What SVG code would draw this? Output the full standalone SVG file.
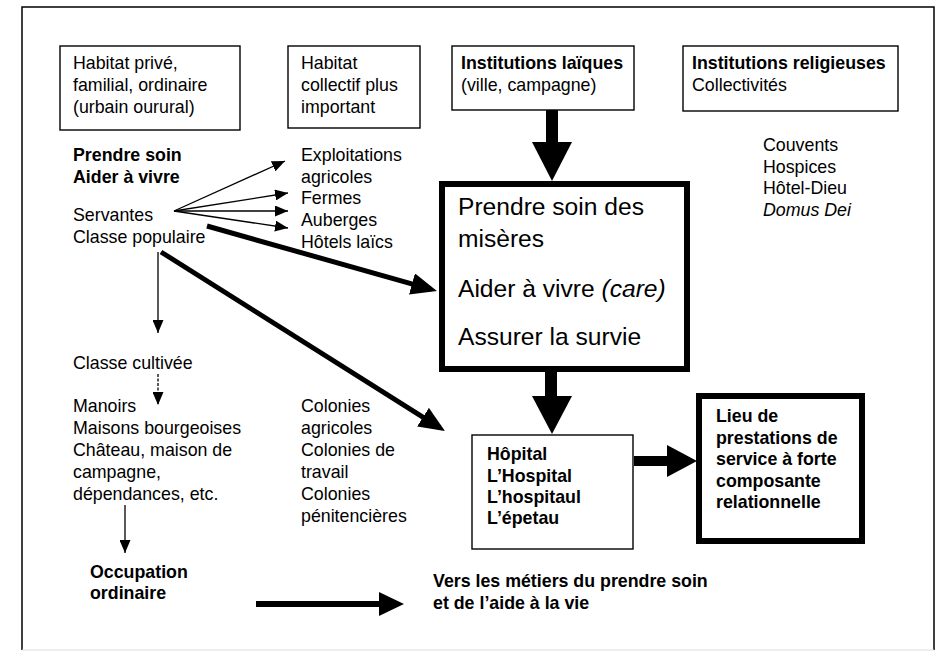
<svg xmlns="http://www.w3.org/2000/svg" width="939" height="652" viewBox="0 0 939 652">
<defs>
<style>
text{font-family:"Liberation Sans",Arial,sans-serif;font-size:17.8px;fill:#000}
.b{font-weight:bold}
.i{font-style:italic}
.big{font-size:24.6px}
.box{fill:#fff;stroke:#000;stroke-width:1.4}
.tbox{fill:#fff;stroke:#000;stroke-width:6}
.thin{stroke:#000;stroke-width:1.3;fill:none}
.thick{stroke:#000;stroke-width:5;fill:none}
.head{fill:#000}
</style>
<marker id="ah" viewBox="0 0 13 11" refX="13" refY="5.5" markerWidth="13" markerHeight="11" markerUnits="userSpaceOnUse" orient="auto"><path d="M0,0 L13,5.5 L0,11 z" fill="#000"/></marker>
<marker id="ahT" viewBox="0 0 26 22" refX="20" refY="11" markerWidth="26" markerHeight="22" markerUnits="userSpaceOnUse" orient="auto"><path d="M0,0 L26,11 L0,22 z" fill="#000"/></marker>
</defs>
<rect width="939" height="652" fill="#fff"/>
<g id="frame">
<path d="M22,650 V7 H934 V650" fill="none" stroke="#000" stroke-width="1.5"/>
<line x1="22" y1="650" x2="934" y2="650" stroke="#ddd" stroke-width="1"/>
</g>
<g id="connectors">
<line class="thin" x1="174" y1="211" x2="285" y2="161" marker-end="url(#ah)"/>
<line class="thin" x1="174" y1="211" x2="288" y2="193" marker-end="url(#ah)"/>
<line class="thin" x1="174" y1="211" x2="288" y2="211" marker-end="url(#ah)"/>
<line class="thin" x1="174" y1="211" x2="288" y2="228" marker-end="url(#ah)"/>
<line class="thick" x1="207" y1="226" x2="431.2" y2="289.4" marker-end="url(#ahT)"/>
<line class="thick" x1="161" y1="252" x2="439.9" y2="427.8" marker-end="url(#ahT)"/>
<line class="thin" x1="158" y1="252" x2="158" y2="333" marker-end="url(#ah)"/>
<line class="thin" x1="158" y1="374" x2="158" y2="405" stroke-dasharray="3,1.5" marker-end="url(#ah)"/>
<line class="thin" x1="125" y1="505" x2="125" y2="553" marker-end="url(#ah)"/>
<rect class="head" x="546" y="110" width="12" height="34"/>
<polygon class="head" points="532,142 572,142 552,181"/>
<rect class="head" x="545" y="369" width="12" height="29"/>
<polygon class="head" points="532,396 572,396 552,434"/>
<rect class="head" x="634" y="456" width="35" height="10"/>
<polygon class="head" points="667,445 697,461 667,477"/>
<rect class="head" x="256" y="601" width="125" height="6"/>
<polygon class="head" points="379,592 404,604 379,616"/>
</g>
<g id="habitat-prive">
<rect class="box" x="60" y="46" width="180" height="84"/>
<text x="73" y="69">Habitat privé,</text>
<text x="73" y="91">familial, ordinaire</text>
<text x="73" y="113">(urbain ourural)</text>
</g>
<g id="habitat-collectif">
<rect class="box" x="288" y="46" width="132" height="82"/>
<text x="301" y="69">Habitat</text>
<text x="301" y="91">collectif plus</text>
<text x="301" y="113">important</text>
</g>
<g id="institutions-laiques">
<rect class="box" x="452" y="46" width="182" height="64"/>
<text x="461" y="69" class="b">Institutions laïques</text>
<text x="461" y="91">(ville, campagne)</text>
</g>
<g id="institutions-religieuses">
<rect class="box" x="683" y="46" width="215" height="65"/>
<text x="692" y="69" class="b">Institutions religieuses</text>
<text x="692" y="91">Collectivités</text>
</g>
<g id="couvents">
<text x="763" y="151">Couvents</text>
<text x="763" y="173">Hospices</text>
<text x="763" y="194">Hôtel-Dieu</text>
<text x="763" y="216" class="i">Domus Dei</text>
</g>
<g id="prendre-soin">
<text x="73" y="161" class="b">Prendre soin</text>
<text x="73" y="183" class="b">Aider à vivre</text>
</g>
<g id="servantes">
<text x="73" y="221">Servantes</text>
<text x="73" y="243">Classe populaire</text>
</g>
<g id="exploitations">
<text x="301" y="161">Exploitations</text>
<text x="301" y="183">agricoles</text>
<text x="301" y="204">Fermes</text>
<text x="301" y="226">Auberges</text>
<text x="301" y="248">Hôtels laïcs</text>
</g>
<g id="central">
<rect class="tbox" x="442" y="184" width="245" height="185"/>
<text x="458" y="215" class="big">Prendre soin des</text>
<text x="458" y="247" class="big">misères</text>
<text x="458" y="297" class="big">Aider à vivre <tspan class="i">(care)</tspan></text>
<text x="458" y="345" class="big">Assurer la survie</text>
</g>
<g id="classe-cultivee">
<text x="73" y="369">Classe cultivée</text>
</g>
<g id="manoirs">
<text x="73" y="412">Manoirs</text>
<text x="73" y="434">Maisons bourgeoises</text>
<text x="73" y="456">Château, maison de</text>
<text x="73" y="478">campagne,</text>
<text x="73" y="500">dépendances, etc.</text>
</g>
<g id="colonies">
<text x="301" y="412">Colonies</text>
<text x="301" y="434">agricoles</text>
<text x="301" y="456">Colonies de</text>
<text x="301" y="478">travail</text>
<text x="301" y="500">Colonies</text>
<text x="301" y="522">pénitencières</text>
</g>
<g id="hopital">
<rect class="box" x="472" y="435" width="161" height="114"/>
<text x="487" y="460" class="b">Hôpital</text>
<text x="487" y="482" class="b">L’Hospital</text>
<text x="487" y="503" class="b">L’hospitaul</text>
<text x="487" y="524" class="b">L’épetau</text>
</g>
<g id="lieu">
<rect class="tbox" x="699" y="396" width="163" height="145"/>
<text x="716" y="422" class="b">Lieu de</text>
<text x="716" y="443.5" class="b">prestations de</text>
<text x="716" y="465" class="b">service à forte</text>
<text x="716" y="486.5" class="b">composante</text>
<text x="716" y="508" class="b">relationnelle</text>
</g>
<g id="occupation">
<text x="90" y="578" class="b">Occupation</text>
<text x="90" y="599" class="b">ordinaire</text>
</g>
<g id="vers-metiers">
<text x="433" y="587" class="b">Vers les métiers du prendre soin</text>
<text x="433" y="609" class="b">et de l’aide à la vie</text>
</g>
</svg>
